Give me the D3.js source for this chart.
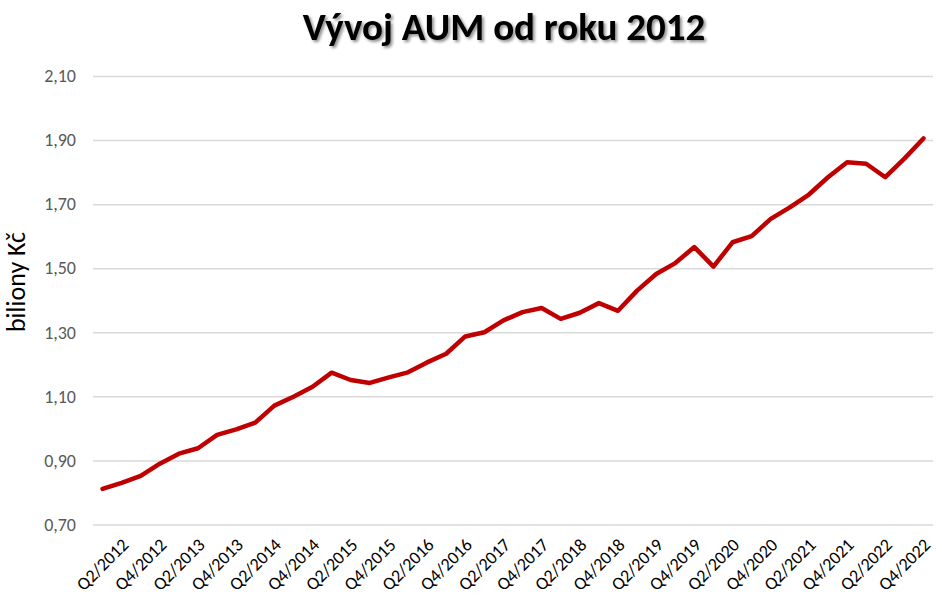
<!DOCTYPE html>
<html>
<head>
<meta charset="utf-8">
<script src="https://cdn.jsdelivr.net/npm/d3@7"></script>
<style>
  html, body { margin: 0; padding: 0; background: #fff; }
  svg { display: block; }
</style>
</head>
<body>
<svg id="chart" width="942" height="607"></svg>
<script>
const quarters = [
  "Q1/2012","Q2/2012","Q3/2012","Q4/2012",
  "Q1/2013","Q2/2013","Q3/2013","Q4/2013",
  "Q1/2014","Q2/2014","Q3/2014","Q4/2014",
  "Q1/2015","Q2/2015","Q3/2015","Q4/2015",
  "Q1/2016","Q2/2016","Q3/2016","Q4/2016",
  "Q1/2017","Q2/2017","Q3/2017","Q4/2017",
  "Q1/2018","Q2/2018","Q3/2018","Q4/2018",
  "Q1/2019","Q2/2019","Q3/2019","Q4/2019",
  "Q1/2020","Q2/2020","Q3/2020","Q4/2020",
  "Q1/2021","Q2/2021","Q3/2021","Q4/2021",
  "Q1/2022","Q2/2022","Q3/2022","Q4/2022"
];
const aum = [
  0.811, 0.830, 0.852, 0.890,
  0.921, 0.938, 0.980, 0.997,
  1.018, 1.071, 1.099, 1.130,
  1.174, 1.151, 1.142, 1.159,
  1.175, 1.206, 1.233, 1.287,
  1.300, 1.337, 1.363, 1.376,
  1.342, 1.361, 1.391, 1.367,
  1.430, 1.482, 1.516, 1.566,
  1.505, 1.581, 1.600, 1.654,
  1.690, 1.730, 1.784, 1.831,
  1.826, 1.784, 1.842, 1.905
];
const xLabels = [
  "Q2/2012","Q4/2012","Q2/2013","Q4/2013","Q2/2014","Q4/2014",
  "Q2/2015","Q4/2015","Q2/2016","Q4/2016","Q2/2017","Q4/2017",
  "Q2/2018","Q4/2018","Q2/2019","Q4/2019","Q2/2020","Q4/2020",
  "Q2/2021","Q4/2021","Q2/2022","Q4/2022"
];
const yTicks = [0.70, 0.90, 1.10, 1.30, 1.50, 1.70, 1.90, 2.10];
const yTickLabels = ["0,70","0,90","1,10","1,30","1,50","1,70","1,90","2,10"];
const titleText = "Vývoj AUM od roku 2012";
const yTitle = "biliony Kč";

const svg = d3.select("#chart");
const font = "Carlito, Lato, 'Liberation Sans', sans-serif";
const plot = { left: 93, right: 933, top: 76, bottom: 524.5 };

const x = d3.scalePoint().domain(quarters).range([plot.left, plot.right]).padding(0.5);
const y = d3.scaleLinear().domain([0.70, 2.10]).range([plot.bottom, plot.top]);

// shadow filter for title
const defs = svg.append("defs");
const f = defs.append("filter").attr("id", "shadow").attr("x", "-10%").attr("y", "-30%").attr("width", "120%").attr("height", "160%");
f.append("feDropShadow").attr("dx", 2).attr("dy", 2).attr("stdDeviation", 1.5).attr("flood-color", "#000").attr("flood-opacity", 0.45);

// gridlines + y labels via axis
const yAxis = d3.axisLeft(y).tickValues(yTicks)
  .tickSize(-(plot.right - plot.left))
  .tickFormat((d, i) => yTickLabels[i]);
const gy = svg.append("g").attr("transform", `translate(${plot.left},0)`).call(yAxis);
gy.select(".domain").remove();
gy.selectAll(".tick line").attr("stroke", "#d9d9d9").attr("stroke-width", 1.5);
gy.selectAll(".tick text").attr("x", -17).attr("fill", "#595959")
  .style("font-family", font).style("font-size", "18px");

// x axis labels
const xAxis = d3.axisBottom(x).tickValues(xLabels).tickSize(0);
const gx = svg.append("g").attr("transform", `translate(0,${plot.bottom})`).call(xAxis);
gx.select(".domain").remove();
gx.selectAll(".tick text")
  .attr("text-anchor", "end")
  .attr("fill", "#000")
  .style("font-family", font).style("font-size", "18px")
  .attr("dy", "0.35em")
  .attr("y", 0)
  .attr("transform", "translate(3,17) rotate(-45)");

// line
const line = d3.line().x((d, i) => x(quarters[i])).y(d => y(d));
svg.append("path").datum(aum)
  .attr("d", line)
  .attr("fill", "none")
  .attr("stroke", "#C00000")
  .attr("stroke-width", 4.5)
  .attr("stroke-linejoin", "round")
  .attr("stroke-linecap", "round");

// y axis title
svg.append("text")
  .attr("transform", `translate(25,282) rotate(-90)`)
  .attr("text-anchor", "middle")
  .style("font-family", font).style("font-size", "26px")
  .attr("fill", "#000")
  .text(yTitle);

// title
svg.append("text")
  .attr("x", 504).attr("y", 40)
  .attr("text-anchor", "middle")
  .style("font-family", font).style("font-size", "39px").style("font-weight", "bold")
  .attr("fill", "#000")
  .attr("filter", "url(#shadow)")
  .text(titleText);
</script>
</body>
</html>
